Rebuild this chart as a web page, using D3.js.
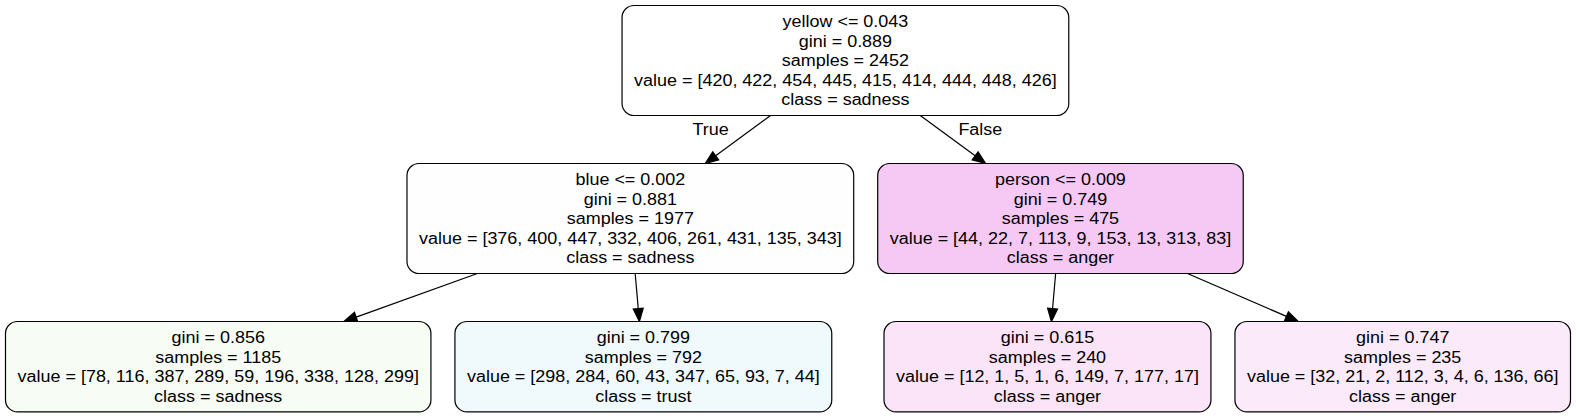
<!DOCTYPE html>
<html>
<head>
<meta charset="utf-8">
<script src="https://cdn.jsdelivr.net/npm/d3@7"></script>
<style>
  body { margin: 0; background: #fff; }
  svg text { font-family: 'Liberation Sans', Arial, Helvetica, sans-serif; fill: #000; }
</style>
</head>
<body>
<div id="tree"></div>
<script>
// tree nodes, numbered depth first like sklearn does
var nodeIds = [0, 1, 2, 3, 4, 5, 6];
var parentIds = [null, 0, 1, 1, 0, 4, 4];
var splits = ['yellow <= 0.043', 'blue <= 0.002', null, null, 'person <= 0.009', null, null];
var ginis = [0.889, 0.881, 0.856, 0.799, 0.749, 0.615, 0.747];
var sampleCounts = [2452, 1977, 1185, 792, 475, 240, 235];
var classValues = [
  [420, 422, 454, 445, 415, 414, 444, 448, 426],
  [376, 400, 447, 332, 406, 261, 431, 135, 343],
  [78, 116, 387, 289, 59, 196, 338, 128, 299],
  [298, 284, 60, 43, 347, 65, 93, 7, 44],
  [44, 22, 7, 113, 9, 153, 13, 313, 83],
  [12, 1, 5, 1, 6, 149, 7, 177, 17],
  [32, 21, 2, 112, 3, 4, 6, 136, 66]
];
var classNames = ['sadness', 'sadness', 'sadness', 'trust', 'anger', 'anger', 'anger'];
var edgeLabels = { 1: 'True', 4: 'False' };

// styles
var nodeFills = ['#ffffff', '#fefefe', '#f7fdf4', '#f0fafd', '#f6c8f4', '#fbe3f8', '#fbeaf9'];
var W = 1576, H = 419;
var fontSize = 16, stretch = 1.122, lineH = 19.6, padX = 12, padY = 6;
var nodesep = 24, ranksep = 48, margin = 5.5;
var arrowLen = 13, arrowHalf = 5, labelDist = 35;

var svg = d3.select('#tree').append('svg').attr('width', W).attr('height', H);

function nodeLines(i) {
  var lines = [];
  if (splits[i]) lines.push(splits[i]);
  lines.push('gini = ' + ginis[i].toFixed(3));
  lines.push('samples = ' + sampleCounts[i]);
  lines.push('value = [' + classValues[i].join(', ') + ']');
  lines.push('class = ' + classNames[i]);
  return lines;
}

// measure text widths
var probe = svg.append('text').style('font-size', fontSize + 'px');
function textWidth(s) {
  probe.text(s);
  return probe.node().getComputedTextLength() * stretch;
}

var root = d3.stratify()
  .id(function(d) { return d; })
  .parentId(function(d) { return parentIds[d] === null ? null : parentIds[d]; })(nodeIds);

root.each(function(n) {
  n.lines = nodeLines(n.data);
  n.w = d3.max(n.lines, textWidth) + 2 * padX;
  n.h = n.lines.length * lineH + 2 * padY;
});
probe.remove();

// rows: each rank sits ranksep below the tallest node of the rank above
var rowTop = [margin];
var depthMax = d3.max(root.descendants(), function(n) { return n.depth; });
for (var d = 1; d <= depthMax; d++) {
  var prev = root.descendants().filter(function(n) { return n.depth == d - 1; });
  rowTop[d] = rowTop[d - 1] + d3.max(prev, function(n) { return n.h; }) + ranksep;
}
root.each(function(n) { n.y0 = rowTop[n.depth]; n.y1 = n.y0 + n.h; n.cy = n.y0 + n.h / 2; });

// columns: left branch packs from the left edge, right branch from the right edge
var left = root.children[0], right = root.children[1];
var x = margin;
left.children.forEach(function(c) { c.cx = x + c.w / 2; x += c.w + nodesep; });
x = W - margin;
right.children.slice().reverse().forEach(function(c) { c.cx = x - c.w / 2; x -= c.w + nodesep; });
left.cx = left.children[left.children.length - 1].cx;
right.cx = right.children[0].cx;
var need = left.w / 2 + right.w / 2 + nodesep - (right.cx - left.cx);
if (need > 0) { left.cx -= need / 2; right.cx += need / 2; }
root.cx = (left.cx + right.cx) / 2;

// edges
var links = root.links();
links.forEach(function(l) {
  var s = l.source, t = l.target;
  var dx = t.cx - s.cx, dy = t.cy - s.cy;
  var a0 = (s.y1 - s.cy) / dy, a1 = (t.y0 - s.cy) / dy;
  l.x0 = s.cx + dx * a0; l.y0 = s.y1;
  l.tx = s.cx + dx * a1; l.ty = t.y0;
  var len = Math.sqrt(dx * dx + dy * dy);
  l.ux = dx / len; l.uy = dy / len;
});

svg.selectAll('line.edge').data(links).enter().append('line')
  .attr('class', 'edge')
  .attr('x1', function(l) { return l.x0; })
  .attr('y1', function(l) { return l.y0; })
  .attr('x2', function(l) { return l.tx - l.ux * arrowLen; })
  .attr('y2', function(l) { return l.ty - l.uy * arrowLen; })
  .attr('stroke', '#000').attr('stroke-width', 1.2);

svg.selectAll('polygon.arrow').data(links).enter().append('polygon')
  .attr('class', 'arrow')
  .attr('points', function(l) {
    var bx = l.tx - l.ux * arrowLen, by = l.ty - l.uy * arrowLen;
    var px = -l.uy * arrowHalf, py = l.ux * arrowHalf;
    return [[l.tx, l.ty], [bx + px, by + py], [bx - px, by - py]].join(' ');
  })
  .attr('fill', '#000').attr('stroke', '#000').attr('stroke-width', 1.2);

// head labels, turned 45 degrees off the edge
svg.selectAll('g.elabel').data(links.filter(function(l) { return edgeLabels[l.target.data]; }))
  .enter().append('g')
  .attr('class', 'elabel')
  .attr('transform', function(l) {
    var back = Math.atan2(-l.uy, -l.ux);
    var ang = back + (l.target === root.children[0] ? -Math.PI / 4 : Math.PI / 4);
    var lx = l.tx + labelDist * Math.cos(ang), ly = l.ty + labelDist * Math.sin(ang);
    return 'translate(' + lx + ',' + ly + ') scale(' + stretch + ',1)';
  })
  .append('text')
  .attr('text-anchor', 'middle')
  .attr('dy', '0.35em')
  .style('font-size', fontSize + 'px')
  .text(function(l) { return edgeLabels[l.target.data]; });

// nodes
var node = svg.selectAll('g.node').data(root.descendants()).enter().append('g').attr('class', 'node');

node.append('rect')
  .attr('x', function(n) { return n.cx - n.w / 2; })
  .attr('y', function(n) { return n.y0; })
  .attr('width', function(n) { return n.w; })
  .attr('height', function(n) { return n.h; })
  .attr('rx', 12).attr('ry', 12)
  .attr('fill', function(n) { return nodeFills[n.data]; })
  .attr('stroke', '#000').attr('stroke-width', 1.2);

node.each(function(n) {
  var g = d3.select(this);
  n.lines.forEach(function(s, i) {
    g.append('g')
      .attr('transform', 'translate(' + n.cx + ',' + (n.y0 + padY + lineH * (i + 0.5)) + ') scale(' + stretch + ',1)')
      .append('text')
      .attr('text-anchor', 'middle')
      .attr('dy', '0.35em')
      .style('font-size', fontSize + 'px')
      .text(s);
  });
});
</script>
</body>
</html>
